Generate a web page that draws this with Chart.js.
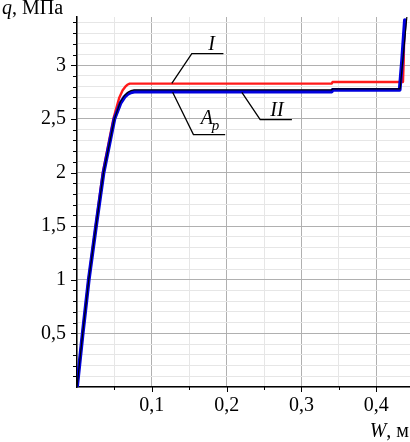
<!DOCTYPE html>
<html><head><meta charset="utf-8">
<script src="https://cdn.jsdelivr.net/npm/chart.js@4/dist/chart.umd.min.js"></script>
<style>html,body{margin:0;padding:0;background:#fff;}canvas{display:block}</style>
</head><body>
<canvas id="c" width="410" height="442"></canvas>
<script>
// ---- data (W in m, q in MPa) ----
const curveI_W  = [0, 0.0075, 0.0155, 0.0250, 0.0345, 0.0486, 0.0566, 0.0610, 0.0646, 0.0672, 0.0705, 0.3405, 0.3415, 0.4356, 0.4366, 0.4376];
const curveI_Q  = [0, 0.5,    1.0,    1.5,    2.0,    2.5,    2.70,   2.767,  2.800,  2.818,  2.829,  2.829,  2.844,  2.844,  3.05,   3.42];
const curveII_W = [0, 0.0076, 0.0157, 0.0254, 0.0355, 0.0500, 0.0580, 0.0635, 0.0680, 0.0720, 0.0765, 0.3405, 0.3415, 0.4312, 0.4345, 0.4382];
const curveII_Q = [0, 0.5,    1.0,    1.5,    2.0,    2.5,    2.645,  2.705,  2.733,  2.748,  2.755,  2.755,  2.770,  2.770,  3.05,   3.42];
const curveAp_W = [0, 0.0076, 0.0157, 0.0254, 0.0355, 0.0500, 0.0580, 0.0635, 0.0680, 0.0720, 0.0765, 0.3405, 0.3415, 0.4318, 0.4408];
const curveAp_Q = [0, 0.5,    1.0,    1.5,    2.0,    2.5,    2.66,   2.718,  2.748,  2.763,  2.770,  2.770,  2.780,  2.780,  3.45];
const xTickValues = [0.1, 0.2, 0.3, 0.4];
const xTickLabels = ['0,1', '0,2', '0,3', '0,4'];
const yTickValues = [0.5, 1, 1.5, 2, 2.5, 3];
const yTickLabels = ['0,5', '1', '1,5', '2', '2,5', '3'];
const seriesNames = ['I', 'II', 'Ap'];
const axisTitleY = ['q', ', МПа'];
const axisTitleX = ['W', ', м'];
// leader lines for curve labels (data units)
const leaderI  = [[0.1267, 2.832], [0.1534, 3.109], [0.1957, 3.109]];
const leaderII = [[0.2203, 2.748], [0.2448, 2.494], [0.2872, 2.494]];
const leaderAp = [[0.1278, 2.748], [0.1556, 2.354], [0.1980, 2.354]];
const labelPosI  = [0.180, 3.14];
const labelPosII = [0.2672, 2.524];
const labelPosA  = [0.1655, 2.45];
const labelPosP  = [0.1800, 2.394];

const SERIF = '"Liberation Serif", "Times New Roman", serif';
const toPts = (w, q) => w.map((v, i) => ({x: v, y: q[i]}));
const isMult = (v, step) => Math.abs(v / step - Math.round(v / step)) < 1e-6;

const decorPlugin = {
  id: 'decor',
  afterDraw(chart) {
    const {ctx, chartArea: ca, scales: {x, y}} = chart;
    ctx.save();
    // tick marks
    ctx.strokeStyle = '#000'; ctx.lineWidth = 1;
    x.ticks.forEach(t => {
      const v = t.value;
      if (v <= 0 || !isMult(v, 0.05)) return;
      const px = Math.round(x.getPixelForValue(v)) + 0.5;
      const len = isMult(v, 0.1) ? 5 : 3;
      ctx.beginPath(); ctx.moveTo(px, ca.bottom); ctx.lineTo(px, ca.bottom + len); ctx.stroke();
    });
    y.ticks.forEach(t => {
      const v = t.value;
      if (v <= 0 || !isMult(v, 0.1)) return;
      const py = Math.round(y.getPixelForValue(v)) + 0.5;
      const len = isMult(v, 0.5) ? 6 : 4;
      ctx.beginPath(); ctx.moveTo(ca.left, py); ctx.lineTo(ca.left - len, py); ctx.stroke();
    });
    // leader lines
    ctx.lineWidth = 1.3;
    [leaderI, leaderII, leaderAp].forEach(l => {
      ctx.beginPath();
      l.forEach((p, i) => {
        const px = x.getPixelForValue(p[0]), py = y.getPixelForValue(p[1]);
        if (i === 0) ctx.moveTo(px, py); else ctx.lineTo(px, py);
      });
      ctx.stroke();
    });
    // curve labels
    ctx.fillStyle = '#000';
    ctx.textBaseline = 'alphabetic';
    ctx.font = 'italic 20px ' + SERIF;
    ctx.textAlign = 'center';
    ctx.fillText(seriesNames[0], x.getPixelForValue(labelPosI[0]), y.getPixelForValue(labelPosI[1]));
    ctx.fillText(seriesNames[1], x.getPixelForValue(labelPosII[0]), y.getPixelForValue(labelPosII[1]));
    ctx.textAlign = 'left';
    ctx.fillText(seriesNames[2][0], x.getPixelForValue(labelPosA[0]), y.getPixelForValue(labelPosA[1]));
    ctx.font = 'italic 15px ' + SERIF;
    ctx.fillText(seriesNames[2][1], x.getPixelForValue(labelPosP[0]), y.getPixelForValue(labelPosP[1]));
    // axis titles
    ctx.font = 'italic 20px ' + SERIF;
    ctx.textAlign = 'left';
    ctx.fillText(axisTitleY[0], 2, 14);
    let w = ctx.measureText(axisTitleY[0]).width;
    ctx.font = '20px ' + SERIF;
    ctx.fillText(axisTitleY[1], 2 + w, 14);
    ctx.font = '20px ' + SERIF;
    const w2 = ctx.measureText(axisTitleX[1]).width;
    ctx.fillText(axisTitleX[1], 409 - w2, 437);
    ctx.font = 'italic 20px ' + SERIF;
    const w1 = ctx.measureText(axisTitleX[0]).width;
    ctx.fillText(axisTitleX[0], 409 - w2 - w1, 437);
    ctx.restore();
  }
};

new Chart(document.getElementById('c'), {
  type: 'line',
  data: {
    datasets: [
      {label: 'Ap', data: toPts(curveAp_W, curveAp_Q), borderColor: '#000000', borderWidth: 1.2},
      {label: 'II', data: toPts(curveII_W, curveII_Q), borderColor: '#0000dd', borderWidth: 3.8},
      {label: 'I',  data: toPts(curveI_W,  curveI_Q),  borderColor: '#ff1a1a', borderWidth: 2.4}
    ]
  },
  options: {
    responsive: false,
    animation: false,
    events: [],
    parsing: false,
    elements: {point: {radius: 0}, line: {tension: 0, borderJoinStyle: 'round', borderCapStyle: 'round'}},
    layout: {padding: {top: 17, right: 0, left: 0, bottom: 0}},
    plugins: {legend: {display: false}, tooltip: {enabled: false}, title: {display: false}},
    scales: {
      x: {
        type: 'linear', min: 0, max: 0.445,
        afterFit: s => { s.height = 55; s.paddingLeft = 0; s.paddingRight = 0; },
        border: {display: true, color: '#000', width: 1.5},
        grid: {
          drawTicks: false,
          color: c => (c.tick.value > 0 && isMult(c.tick.value, 0.1)) ? '#b0b0b0' : (isMult(c.tick.value, 0.05) ? '#e6e6e6' : 'rgba(0,0,0,0)'),
          lineWidth: 1
        },
        ticks: {
          stepSize: 0.05, includeBounds: false, autoSkip: false, maxRotation: 0, padding: 7,
          color: '#000', font: {family: SERIF, size: 20},
          callback: v => { const i = xTickValues.findIndex(t => Math.abs(t - v) < 1e-6); return i >= 0 ? xTickLabels[i] : ''; }
        }
      },
      y: {
        type: 'linear', min: 0, max: 3.45,
        afterFit: s => { s.width = 77; s.paddingTop = 0; s.paddingBottom = 0; },
        border: {display: true, color: '#000', width: 1.5},
        grid: {
          drawTicks: false,
          color: c => (c.tick.value > 0 && isMult(c.tick.value, 0.5)) ? '#b0b0b0' : (isMult(c.tick.value, 0.1) ? '#e6e6e6' : 'rgba(0,0,0,0)'),
          lineWidth: 1
        },
        ticks: {
          stepSize: 0.1, includeBounds: false, autoSkip: false, padding: 11,
          color: '#000', font: {family: SERIF, size: 20},
          callback: v => { const i = yTickValues.findIndex(t => Math.abs(t - v) < 1e-6); return i >= 0 ? yTickLabels[i] : ''; }
        }
      }
    }
  },
  plugins: [decorPlugin]
});
</script>
</body></html>
